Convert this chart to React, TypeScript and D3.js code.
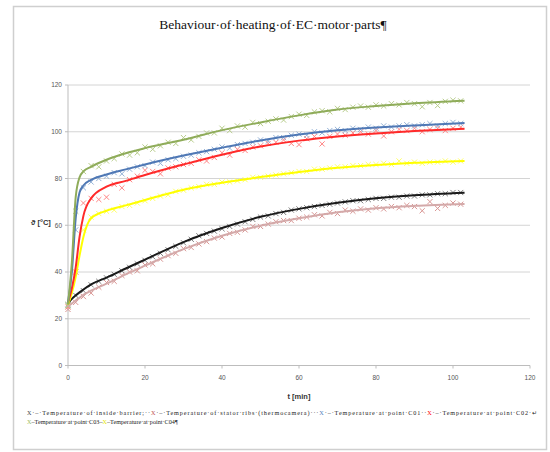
import React from "react";
import * as d3 from "d3";

// measured times [min]
const markerTimes = d3.range(0, 103, 2);
const lineTimes = [0, 1, 2, 3, 4, 6, 10, 15, 20, 30, 40, 50, 60, 70, 80, 90, 103];

// measured points (every 2 min)
const barrierPts = [26, 30, 32, 34.5, 36, 37.5, 39, 40.5, 42, 43.5, 45, 46.5, 48, 49.5, 51, 52.5, 54, 55.5, 56.5, 57.5, 58.5, 59.5, 60.5, 61.5, 62.5, 63.5, 64, 65, 65.5, 66.5, 67, 67.5, 68, 68.5, 69, 69.5, 70, 70.5, 70.5, 71, 71.5, 71.5, 72, 72, 72.5, 72.5, 73, 73, 73.5, 73.5, 74, 74];
const ribsPts = [24, 27, 29.5, 31, 33.5, 35.5, 36, 38.5, 40, 40.5, 43, 43.5, 45.5, 47, 48, 50, 50.5, 52, 53, 54.5, 55, 56.5, 57, 58, 59.5, 59.5, 60.5, 61.5, 62, 62, 63, 63.5, 64.5, 64, 65.5, 65, 66.5, 66, 67, 66.5, 67.5, 67, 68, 67.5, 68.5, 68, 66.2, 70.1, 67.2, 68.5, 69.5, 69];
const c01Pts = [26, 58, 76, 78.5, 80, 81, 82.5, 82, 84, 85, 85.5, 87, 86.5, 88, 88.5, 89.5, 90, 91, 91.5, 92.5, 93.5, 93, 94.5, 95, 95.5, 96.5, 96, 97.5, 97.5, 98.5, 99, 98.5, 100, 99.5, 100.5, 101, 100.5, 101.5, 101, 102, 101.5, 102.5, 102, 102.5, 103, 102.5, 103, 103.5, 102.5, 103.5, 104, 103.5];
const c02Pts = [25, 40, 69.5, 71.5, 71, 72, 77.5, 76, 79.5, 81, 83.5, 83, 82, 84.5, 85, 86, 86.5, 88, 87.5, 89, 91, 90, 92.5, 92, 93.5, 94, 95, 95.5, 96.5, 95, 94.5, 97, 98, 94.8, 98, 99, 98.5, 99.5, 100, 99, 100.5, 98.2, 100, 101, 100.5, 101.5, 100, 101, 101.5, 100.5, 101.5, 102];
const c03Pts = [25.5, 66, 83, 85.5, 85, 87.5, 88.5, 90.5, 90, 91, 93.5, 92.5, 94, 95.5, 95, 97.5, 96.5, 98, 99.5, 99.5, 101.5, 100.5, 102.5, 102, 104, 103.5, 104.5, 105.5, 105, 106.5, 107.5, 107, 108.5, 109, 108.5, 110, 109.5, 110.5, 111, 110.5, 111.5, 111, 112, 111.5, 112.5, 112, 110.7, 112.5, 111.2, 113, 113.5, 113.2];
const c04Pts = [26, 40, 58, 63.5, 65, 66, 66.5, 68, 68.5, 69.5, 70.5, 71.5, 72.5, 73, 74.5, 75, 76, 76.5, 77.5, 77.5, 78.5, 78.5, 79, 79.5, 80.5, 80.5, 81, 81.5, 82, 82.5, 83, 83, 84, 84, 84.5, 85, 85, 85.5, 85.5, 86, 86, 86.5, 86, 87.5, 86.5, 87, 86.5, 87, 87, 87.5, 87, 87.5];

// fitted curves
const barrierFit = [26.5, 28.5, 30, 31.3, 32.5, 34.7, 37.6, 41.5, 45.3, 52.8, 58.8, 63.6, 67, 69.6, 71.5, 72.8, 73.9];
const ribsFit = [25.2, 26.5, 27.8, 29, 30.2, 32, 35, 39, 42.7, 49.8, 55.5, 59.8, 63, 65.6, 67.3, 68.3, 69.1];
const c01Fit = [27, 40, 63, 74, 77, 79.4, 81.7, 83.9, 86, 89.8, 93.2, 96.3, 98.8, 100.6, 101.8, 102.7, 103.7];
const c02Fit = [27, 33, 42, 55, 64, 71.5, 76.5, 79, 81.5, 86, 90.2, 93.7, 96.2, 98, 99.3, 100.3, 101.3];
const c03Fit = [26, 44, 72, 80.5, 83, 85, 88, 90.8, 93, 96.6, 100.7, 104, 107, 109.5, 111, 112.2, 113.3];
const c04Fit = [26, 31, 38, 47, 55, 63, 66.2, 68.5, 70.8, 75.2, 78.2, 80.6, 82.8, 84.6, 85.8, 86.7, 87.5];

const xTicks = [0, 20, 40, 60, 80, 100, 120];
const yTicks = [0, 20, 40, 60, 80, 100, 120];

const series = [
  { pts: barrierPts, fit: barrierFit, line: "#1a1a1a", mark: "#7f7f7f" },
  { pts: ribsPts, fit: ribsFit, line: "#d4a9a9", mark: "#d99694" },
  { pts: c04Pts, fit: c04Fit, line: "#ffff00", mark: "#ffff66" },
  { pts: c02Pts, fit: c02Fit, line: "#ff2a2a", mark: "#ff8585" },
  { pts: c01Pts, fit: c01Fit, line: "#4f78b5", mark: "#95b3d7" },
  { pts: c03Pts, fit: c03Fit, line: "#8fac5a", mark: "#b8cd8c" },
];

const sans = "'Liberation Sans', Arial, sans-serif";
const serif = "'Liberation Serif', 'Times New Roman', serif";

export default function App() {
  const x = d3.scaleLinear().domain([0, 120]).range([68, 530]);
  const y = d3.scaleLinear().domain([0, 120]).range([365.5, 85]);
  const line = d3
    .line<number>()
    .x((d, i) => x(lineTimes[i]))
    .y((d) => y(d))
    .curve(d3.curveMonotoneX);

  const cross = (cx: number, cy: number, s = 2.6) =>
    `M${cx - s},${cy - s}L${cx + s},${cy + s}M${cx - s},${cy + s}L${cx + s},${cy - s}`;

  return (
    <svg width={550} height={452} style={{ position: "absolute", left: 0, top: 0, background: "#fff" }}>
      <rect x={13.5} y={6.5} width={533} height={443} fill="#fff" stroke="#cfcfcf" strokeWidth={1.5} />
      <text x={273} y={29} textAnchor="middle" fontFamily={serif} fontSize={13.5} fill="#111">
        Behaviour·of·heating·of·EC·motor·parts¶
      </text>

      {/* grid */}
      {yTicks.slice(1).map((t) => (
        <line key={t} x1={x(0)} x2={x(120)} y1={y(t)} y2={y(t)} stroke="#d4d4d4" strokeWidth={1} />
      ))}
      <line x1={x(0)} x2={x(120)} y1={y(0)} y2={y(0)} stroke="#bdbdbd" strokeWidth={1} />
      <line x1={x(0)} x2={x(0)} y1={y(0)} y2={y(120)} stroke="#bdbdbd" strokeWidth={1} />
      {xTicks.map((t) => (
        <g key={t}>
          <line x1={x(t)} x2={x(t)} y1={y(0)} y2={y(0) + 3} stroke="#bdbdbd" />
          <text x={x(t)} y={380} textAnchor="middle" fontFamily={sans} fontSize={6.5} fill="#555">
            {t}
          </text>
        </g>
      ))}
      {yTicks.map((t) => (
        <g key={t}>
          <line x1={x(0) - 3} x2={x(0)} y1={y(t)} y2={y(t)} stroke="#bdbdbd" />
          <text x={62} y={y(t) + 2.3} textAnchor="end" fontFamily={sans} fontSize={6.5} fill="#555">
            {t}
          </text>
        </g>
      ))}
      <text x={299} y={399} textAnchor="middle" fontFamily={sans} fontSize={7.5} fontWeight="bold" fill="#333">
        t [min]
      </text>
      <text x={31} y={225} fontFamily={sans} fontSize={7.5} fontWeight="bold" fill="#333">
        ϑ [°C]
      </text>

      {/* measured points */}
      {series.map((s, k) => (
        <path
          key={"m" + k}
          d={s.pts.map((v, i) => cross(x(markerTimes[i]), y(v))).join("")}
          stroke={s.mark}
          strokeWidth={1}
          fill="none"
        />
      ))}
      {/* fitted curves */}
      {series.map((s, k) => (
        <path key={"l" + k} d={line(s.fit) || ""} stroke={s.line} strokeWidth={2} fill="none" />
      ))}

      {/* caption */}
      <text x={27} y={415} fontFamily={serif} fontSize={6.2} fill="#222" textLength={510} lengthAdjust="spacing">
        <tspan fill="#444">X</tspan>·–·Temperature·of·inside·barrier;··<tspan fill="#c0504d">X</tspan>·–·Temperature·of·stator·ribs·(thermocamera)···<tspan fill="#4f81bd">X</tspan>·–·Temperature·at·point·C01··<tspan fill="#ff0000">X</tspan>·–·Temperature·at·point·C02·↵
      </text>
      <text x={27} y={424} fontFamily={serif} fontSize={6.2} fill="#222">
        <tspan fill="#9bbb59">X</tspan>–Temperature·at·point·C03–<tspan fill="#e6e600">X</tspan>–Temperature·at·point·C04¶
      </text>
    </svg>
  );
}
